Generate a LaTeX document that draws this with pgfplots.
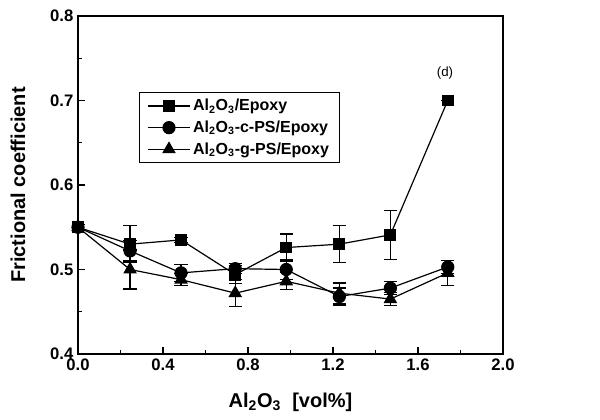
\documentclass[border=0pt]{standalone}
\usepackage{pgfplots}
\pgfplotsset{compat=1.18}
\usepackage{pgfplotstable}
\usepackage{fontspec}
\setmainfont{Liberation Sans}
\pgfplotstableread{
x y e
0 0.550 0.003
0.245 0.530 0.022
0.485 0.535 0.003
0.74 0.494 0.011
0.98 0.526 0.016
1.23 0.530 0.022
1.47 0.541 0.029
1.74 0.700 0
}\tabA
\pgfplotstableread{
x y e
0 0.550 0.003
0.245 0.522 0.012
0.485 0.496 0.010
0.74 0.501 0.006
0.98 0.500 0.012
1.23 0.468 0.010
1.47 0.478 0.008
1.74 0.503 0.008
}\tabB
\pgfplotstableread{
x y e
0 0.550 0.003
0.245 0.500 0.023
0.485 0.488 0.007
0.74 0.472 0.016
0.98 0.486 0.010
1.23 0.472 0.012
1.47 0.465 0.008
1.74 0.496 0.015
}\tabC
\begin{document}
\begin{tikzpicture}
\path[use as bounding box] (-58.5pt,-48.75pt) rectangle (391.5pt,265.5pt);
\begin{axis}[
  scale only axis, width=318.75pt, height=253.5pt,
  xmin=0, xmax=2, ymin=0.4, ymax=0.8,
  xtick={0,0.4,0.8,1.2,1.6,2.0}, minor x tick num=1,
  ytick={0.4,0.5,0.6,0.7,0.8}, minor y tick num=1,
  tick align=inside, xtick pos=bottom, ytick pos=left,
  major tick length=5pt, minor tick length=3pt,
  axis line style={line width=1.3pt},
  every tick/.style={line width=1pt, black},
  tick label style={font=\bfseries\fontsize{12.5}{13}\selectfont},
  /pgf/number format/.cd, fixed, fixed zerofill, precision=1, assume math mode=true,
  /pgfplots/.cd,
  xlabel={Al\textsubscript{2}O\textsubscript{3}\ \ [vol\%]},
  ylabel={Frictional coefficient},
  label style={font=\bfseries\fontsize{15}{16}\selectfont},
  xlabel style={at={(axis description cs:0.5,-0.142)}, anchor=center},
  ylabel style={at={(axis description cs:-0.141,0.5)}, anchor=center},
  legend style={at={(axis cs:0.287,0.71)}, anchor=north west, draw=black, line width=0.8pt,
    font=\bfseries\fontsize{12}{14}\selectfont, row sep=2pt, inner xsep=6pt, inner ysep=3pt},
  legend cell align=left,
  legend image code/.code={\draw[mark repeat=2,mark phase=2] plot coordinates {(0cm,0cm) (0.55cm,0cm) (1.1cm,0cm)};},
  error bars/error bar style={line width=0.9pt, black},
  error bars/error mark options={rotate=90, line width=0.9pt, mark size=5pt, black},
]
\addplot[black, line width=0.9pt, mark=square*, mark size=4pt, mark options={solid, fill=black},
  error bars/.cd, y dir=both, y explicit] table[x=x, y=y, y error=e]{\tabA};
\addlegendentry{Al\textsubscript{2}O\textsubscript{3}/Epoxy}
\addplot[black, line width=0.9pt, mark=*, mark size=4.5pt, mark options={solid, fill=black},
  error bars/.cd, y dir=both, y explicit] table[x=x, y=y, y error=e]{\tabB};
\addlegendentry{Al\textsubscript{2}O\textsubscript{3}-c-PS/Epoxy}
\addplot[black, line width=0.9pt, mark=triangle*, mark size=5pt, mark options={solid, fill=black},
  error bars/.cd, y dir=both, y explicit] table[x=x, y=y, y error=e]{\tabC};
\addlegendentry{Al\textsubscript{2}O\textsubscript{3}-g-PS/Epoxy}
\node[font=\fontsize{10}{12}\selectfont] at (axis cs:1.727,0.732) {(d)};
\end{axis}
\end{tikzpicture}
\end{document}
